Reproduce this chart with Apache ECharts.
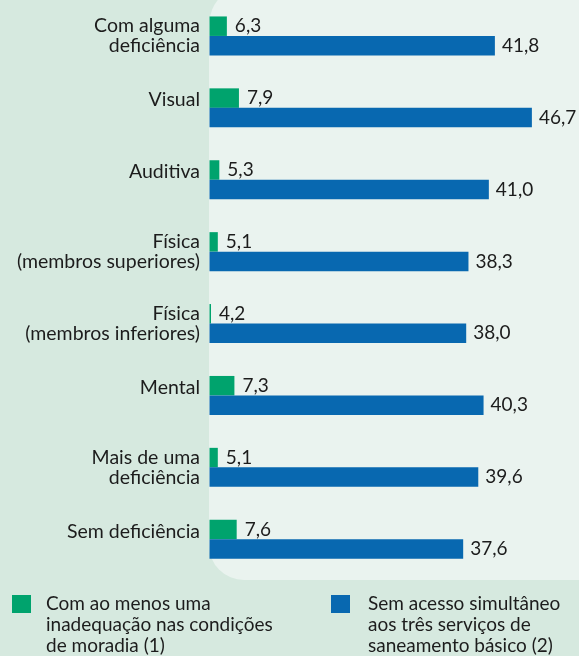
<!DOCTYPE html>
<html>
<head>
<meta charset="utf-8">
<script src="https://cdn.jsdelivr.net/npm/echarts@6/dist/echarts.min.js"></script>
<style>
html,body{margin:0;padding:0;background:#d6e9df;}
#chart{width:579px;height:656px;}
</style>
</head>
<body>
<div id="chart"></div>
<script>
var categories = [
  'Com alguma\ndeficiência',
  'Visual',
  'Auditiva',
  'Física\n(membros superiores)',
  'Física\n(membros inferiores)',
  'Mental',
  'Mais de uma\ndeficiência',
  'Sem deficiência'
];
var seriesNames = [
  'Com ao menos uma\ninadequação nas condições\nde moradia (1)',
  'Sem acesso simultâneo\naos três serviços de\nsaneamento básico (2)'
];
var inadequacao = [6.3, 7.9, 5.3, 5.1, 4.2, 7.3, 5.1, 7.6];
var semSaneamento = [41.8, 46.7, 41.0, 38.3, 38.0, 40.3, 39.6, 37.6];

var FONT = 'Lato';
var TXT = '#1c1c1c';
var GREEN = '#00a36d';
var BLUE = '#0868b0';

var chart = echarts.init(document.getElementById('chart'));

function fmt(p) { return String(p.value.toFixed(1)).replace('.', ','); }

var yData = categories.map(function (c) {
  var single = c.indexOf('\n') < 0;
  return single ? { value: c, textStyle: { lineHeight: 16 } } : { value: c };
});

chart.setOption({
  backgroundColor: '#d6e9df',
  animation: false,
  graphic: [{
    type: 'rect',
    z: -10,
    shape: { x: 209, y: -15, width: 400, height: 595, r: [40, 0, 0, 35] },
    style: { fill: '#eaf3ef' }
  }],
  grid: { left: 209.5, top: -2.3, width: 347.3, height: 577.5, containLabel: false },
  xAxis: {
    type: 'value', min: 4, max: 50, show: false
  },
  yAxis: {
    type: 'category', inverse: true, data: yData,
    axisLine: { show: false }, axisTick: { show: false }, splitLine: { show: false },
    axisLabel: {
      margin: 9.5, fontFamily: FONT, fontSize: 19.5, lineHeight: 20, color: TXT, align: 'right',
      formatter: function (v) { return v.indexOf('\n') < 0 ? v + '\n' : v; }
    }
  },
  legend: [{
    data: [seriesNames[0]], left: 12, top: 551.5, padding: 0,
    itemWidth: 19, itemHeight: 18, icon: 'rect',
    formatter: function (n) { return '\n\n' + n; },
    textStyle: { fontFamily: FONT, fontSize: 19, lineHeight: 21, color: TXT, padding: [0, 0, 0, 10] }
  }, {
    data: [seriesNames[1]], left: 331, top: 551.5, padding: 0,
    itemWidth: 19, itemHeight: 18, icon: 'rect',
    formatter: function (n) { return '\n\n' + n; },
    textStyle: { fontFamily: FONT, fontSize: 19, lineHeight: 21, color: TXT, padding: [0, 0, 0, 13] }
  }],
  series: [{
    name: seriesNames[0], type: 'bar', data: inadequacao,
    barWidth: 19.5, barGap: '0%',
    itemStyle: { color: GREEN },
    label: { show: true, position: 'right', distance: 8, formatter: fmt,
      fontFamily: FONT, fontSize: 19, color: TXT }
  }, {
    name: seriesNames[1], type: 'bar', data: semSaneamento,
    barWidth: 19.5, barGap: '0%',
    itemStyle: { color: BLUE },
    label: { show: true, position: 'right', distance: 7, formatter: fmt,
      fontFamily: FONT, fontSize: 19, color: TXT }
  }]
});
</script>
</body>
</html>
